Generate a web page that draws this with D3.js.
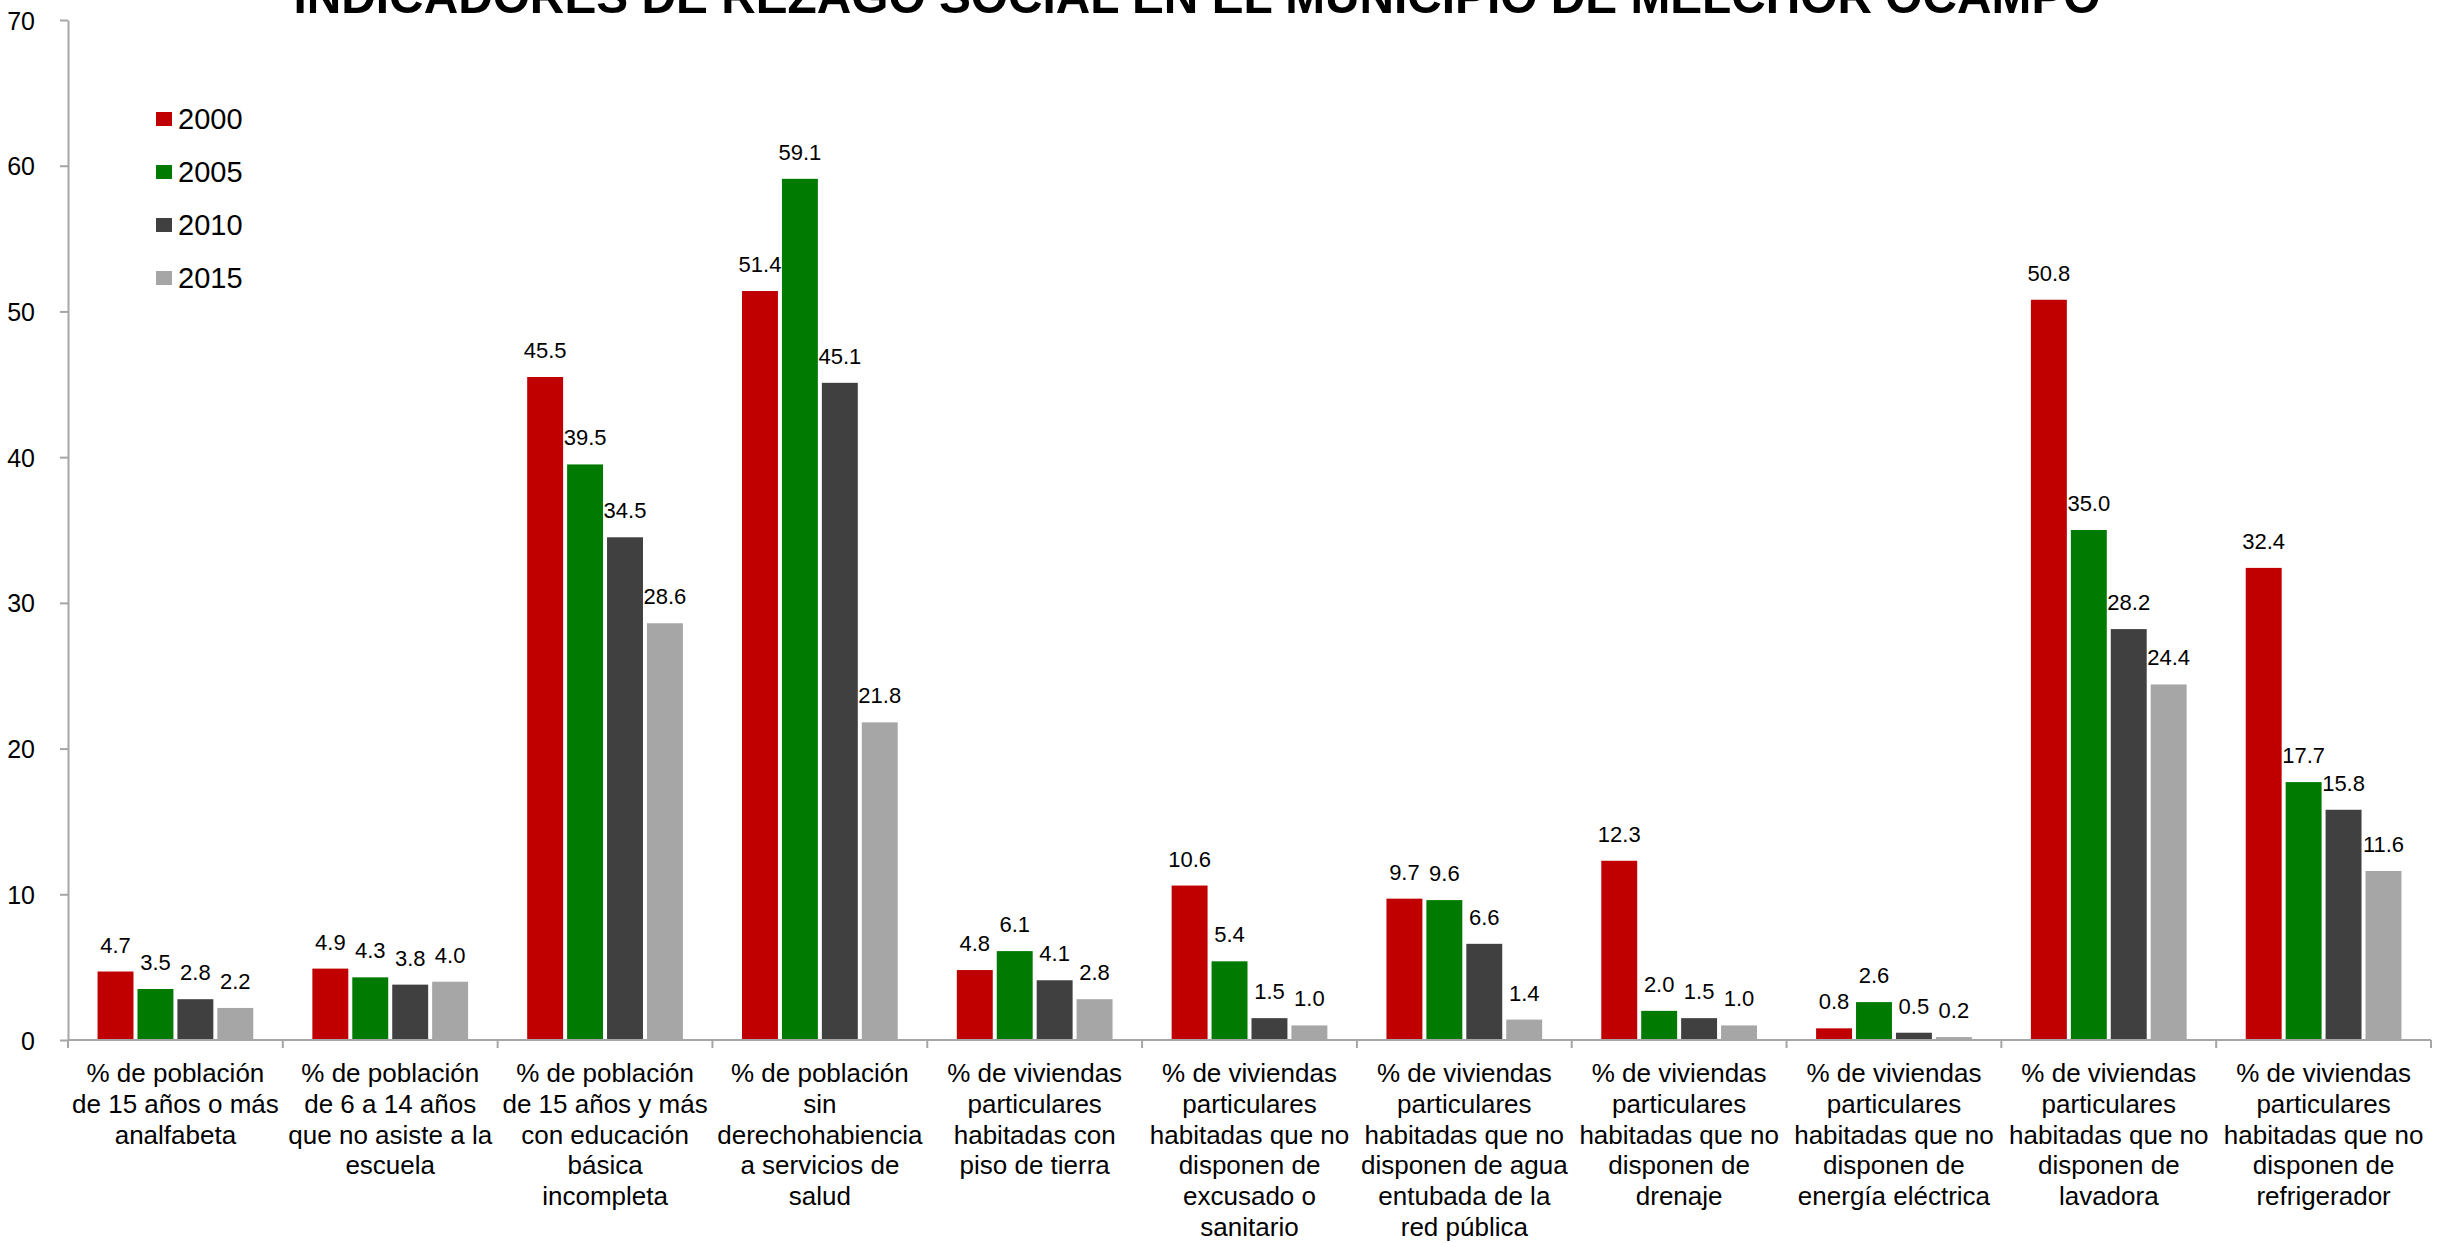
<!DOCTYPE html>
<html>
<head>
<meta charset="utf-8">
<script src="https://cdn.jsdelivr.net/npm/d3@7"></script>
<style>
  body { margin: 0; background: #fff; }
  svg { display: block; font-family: "Liberation Sans", Arial, sans-serif; }
  .axis path, .axis line { stroke: #a6a6a6; stroke-width: 2; }
  .y.axis text { font-size: 25px; fill: #000; }
</style>
</head>
<body>
<script>
// chart values
var categories = [
  ["% de población", "de 15 años o más", "analfabeta"],
  ["% de población", "de 6 a 14 años", "que no asiste a la", "escuela"],
  ["% de población", "de 15 años y más", "con educación", "básica", "incompleta"],
  ["% de población", "sin", "derechohabiencia", "a servicios de", "salud"],
  ["% de viviendas", "particulares", "habitadas con", "piso de tierra"],
  ["% de viviendas", "particulares", "habitadas que no", "disponen de", "excusado o", "sanitario"],
  ["% de viviendas", "particulares", "habitadas que no", "disponen de agua", "entubada de la", "red pública"],
  ["% de viviendas", "particulares", "habitadas que no", "disponen de", "drenaje"],
  ["% de viviendas", "particulares", "habitadas que no", "disponen de", "energía eléctrica"],
  ["% de viviendas", "particulares", "habitadas que no", "disponen de", "lavadora"],
  ["% de viviendas", "particulares", "habitadas que no", "disponen de", "refrigerador"]
];
var years = ["2000", "2005", "2010", "2015"];
var values2000 = [4.7, 4.9, 45.5, 51.4, 4.8, 10.6, 9.7, 12.3, 0.8, 50.8, 32.4];
var values2005 = [3.5, 4.3, 39.5, 59.1, 6.1, 5.4, 9.6, 2.0, 2.6, 35.0, 17.7];
var values2010 = [2.8, 3.8, 34.5, 45.1, 4.1, 1.5, 6.6, 1.5, 0.5, 28.2, 15.8];
var values2015 = [2.2, 4.0, 28.6, 21.8, 2.8, 1.0, 1.4, 1.0, 0.2, 24.4, 11.6];
var yTicks = [0, 10, 20, 30, 40, 50, 60, 70];
var title = "INDICADORES DE REZAGO SOCIAL EN EL MUNICIPIO DE MELCHOR OCAMPO";

function init() {
  var colors = ["#c00000", "#007a00", "#404040", "#a6a6a6"];
  var series = [values2000, values2005, values2010, values2015];

  var W = 2450, H = 1243;
  var margin = {left: 68, right: 2431, top: 20, bottom: 1040};

  var svg = d3.select("body").append("svg")
    .attr("width", W)
    .attr("height", H);

  svg.append("rect").attr("width", W).attr("height", H).attr("fill", "#fff");

  var catIdx = categories.map(function(d, i) { return i; });

  var x0 = d3.scaleBand()
    .domain(catIdx)
    .range([margin.left, margin.right])
    .padding(0);

  var x1 = d3.scaleBand()
    .domain(years)
    .range([0, x0.bandwidth()])
    .paddingInner(0.1)
    .paddingOuter(0.74);

  var y = d3.scaleLinear()
    .domain([0, 70])
    .range([margin.bottom, margin.top]);

  var color = d3.scaleOrdinal().domain(years).range(colors);

  // y axis
  svg.append("g")
    .attr("class", "y axis")
    .attr("transform", "translate(" + margin.left + ",0)")
    .call(d3.axisLeft(y).tickValues(yTicks).tickSizeInner(8).tickSizeOuter(0).tickPadding(25))
    .call(function(g) { g.selectAll("text").attr("dy", "0.36em"); });

  // bars
  var rows = [];
  catIdx.forEach(function(c) {
    years.forEach(function(yr, j) {
      rows.push({ cat: c, year: yr, value: series[j][c] });
    });
  });

  svg.append("g").selectAll("rect")
    .data(rows)
    .enter().append("rect")
    .attr("x", function(d) { return x0(d.cat) + x1(d.year); })
    .attr("y", function(d) { return y(d.value); })
    .attr("width", x1.bandwidth())
    .attr("height", function(d) { return y(0) - y(d.value); })
    .attr("fill", function(d) { return color(d.year); });

  // value labels
  svg.append("g").selectAll("text")
    .data(rows)
    .enter().append("text")
    .attr("x", function(d) { return x0(d.cat) + x1(d.year) + x1.bandwidth() / 2; })
    .attr("y", function(d) { return y(d.value) - 19; })
    .attr("text-anchor", "middle")
    .attr("font-size", 22)
    .attr("fill", "#000")
    .text(function(d) { return d.value.toFixed(1); });

  // x axis: baseline plus ticks between categories
  var xg = svg.append("g").attr("class", "x axis");
  xg.append("line")
    .attr("x1", margin.left).attr("x2", margin.right)
    .attr("y1", y(0)).attr("y2", y(0));
  var bounds = catIdx.map(function(c) { return x0(c); })
    .concat([x0(catIdx[catIdx.length - 1]) + x0.bandwidth()]);
  xg.selectAll(".tk")
    .data(bounds)
    .enter().append("line")
    .attr("class", "tk")
    .attr("x1", function(d) { return d; }).attr("x2", function(d) { return d; })
    .attr("y1", y(0)).attr("y2", y(0) + 8);

  // category labels
  var cl = svg.append("g").selectAll("text")
    .data(catIdx)
    .enter().append("text")
    .attr("text-anchor", "middle")
    .attr("font-size", 26)
    .attr("fill", "#000")
    .attr("transform", function(c) { return "translate(" + (x0(c) + x0.bandwidth() / 2) + ",1082)"; });

  cl.selectAll("tspan")
    .data(function(c) { return categories[c]; })
    .enter().append("tspan")
    .attr("x", 0)
    .attr("y", function(d, i) { return i * 30.8; })
    .text(function(d) { return d; });

  // legend
  var lg = svg.append("g").selectAll("g")
    .data(years)
    .enter().append("g")
    .attr("transform", function(d, i) { return "translate(156," + (129 + i * 53) + ")"; });

  lg.append("rect")
    .attr("x", 0).attr("y", -17)
    .attr("width", 16).attr("height", 14)
    .attr("fill", function(d) { return color(d); });

  lg.append("text")
    .attr("x", 22)
    .attr("font-size", 29)
    .attr("fill", "#000")
    .text(function(d) { return d; });

  // title (partly cut off at the top, as in the original)
  svg.append("text")
    .attr("x", 1197)
    .attr("y", 13)
    .attr("text-anchor", "middle")
    .attr("font-size", 49)
    .attr("font-weight", "bold")
    .attr("textLength", 1807)
    .attr("lengthAdjust", "spacingAndGlyphs")
    .attr("fill", "#000")
    .text(title);
}
window.onload = init;
</script>
</body>
</html>
